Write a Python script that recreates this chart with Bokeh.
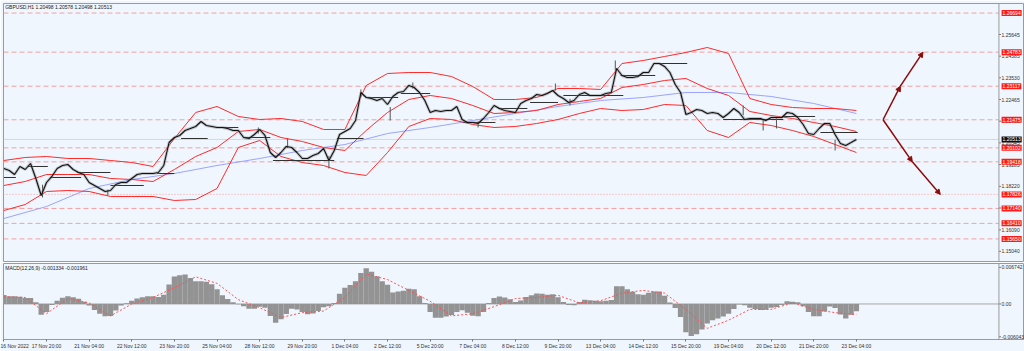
from bokeh.plotting import figure
from bokeh.models import Range1d, FixedTicker, Span, Label, Arrow, NormalHead
from bokeh.core.properties import value
from bokeh.layouts import column
from bokeh.embed import file_html
from bokeh.resources import INLINE

BG = "#EFF6FE"
FONT = "Liberation Sans"

# ---- price data (H1 bars, one value every 4 bars) ----
close = [1.19093, 1.18995, 1.18799, 1.19191, 1.19044, 1.19337, 1.18604, 1.17773, 1.18408, 1.18702,
         1.19093, 1.19240, 1.19288, 1.19044, 1.18897, 1.18799, 1.18408, 1.18262, 1.18115, 1.17968,
         1.18017, 1.18310, 1.18408, 1.18408, 1.18604, 1.18799, 1.18848, 1.18848, 1.18848, 1.18897,
         1.19240, 1.20364, 1.20609, 1.20707, 1.20951, 1.21049, 1.21147, 1.21391, 1.21196, 1.21147,
         1.21098, 1.21098, 1.21049, 1.20951, 1.20951, 1.20609, 1.20560, 1.20755, 1.21000, 1.20707,
         1.19875, 1.19631, 1.19875, 1.20169, 1.20120, 1.19875, 1.19582, 1.19582, 1.19729, 1.19826,
         1.20071, 1.19484, 1.19973, 1.20755, 1.20902, 1.21049, 1.21440, 1.22809, 1.22565, 1.22516,
         1.22418, 1.22516, 1.22222, 1.22614, 1.22809, 1.22858, 1.23152, 1.23054, 1.22809, 1.22418,
         1.21831, 1.21929, 1.21880, 1.21929, 1.21929, 1.22125, 1.21489, 1.21342, 1.21342, 1.21293,
         1.21538, 1.21831, 1.22174, 1.22027, 1.21929, 1.21880, 1.21831, 1.22271, 1.22418, 1.22516,
         1.22711, 1.22663, 1.22760, 1.22907, 1.22663, 1.22516, 1.22320, 1.22418, 1.22711, 1.22809,
         1.22663, 1.22663, 1.22663, 1.22760, 1.22809, 1.23983, 1.23641, 1.23543, 1.23543, 1.23592,
         1.23787, 1.23787, 1.24227, 1.24227, 1.24081, 1.23787, 1.23200, 1.22809, 1.21733, 1.21831,
         1.21978, 1.21929, 1.21782, 1.21831, 1.21782, 1.21587, 1.21782, 1.22027, 1.21831, 1.21489,
         1.21538, 1.21538, 1.21538, 1.21440, 1.21587, 1.21587, 1.21587, 1.21831, 1.21782, 1.21587,
         1.21244, 1.20804, 1.20755, 1.21049, 1.21293, 1.21293, 1.20755, 1.20315, 1.20218, 1.20364,
         1.20513]
close_x = list(range(0, 4 * len(close), 4))

# ---- notable candle wicks (bar index, wick end, wick start) ----
wick_x = [29, 78, 191, 213, 244, 268, 290, 307, 356, 414, 425, 459, 555, 570, 580, 624]
wick_end = [1.17675, 1.17773, 1.21098, 1.20560, 1.19093, 1.22956, 1.21440, 1.23298, 1.21098, 1.23249,
            1.22174, 1.24374, 1.22174, 1.20951, 1.21049, 1.19973]
wick_start = [1.18300, 1.18050, 1.20800, 1.20100, 1.19700, 1.22600, 1.22100, 1.23000, 1.21400, 1.22900,
              1.22500, 1.23900, 1.21700, 1.21500, 1.21550, 1.20500]

# ---- Bollinger bands (one value every 16 bars) ----
bb_upper = [1.19484, 1.19631, 1.19680, 1.19582, 1.19582, 1.19484, 1.19386, 1.19191, 1.20560, 1.21831,
            1.22125, 1.21636, 1.21489, 1.21538, 1.21391, 1.21000, 1.21000, 1.23152, 1.23738, 1.23787,
            1.23787, 1.23592, 1.23103, 1.22467, 1.22467, 1.22565, 1.23005, 1.23005, 1.22956, 1.24227,
            1.24374, 1.24570, 1.24765, 1.25010, 1.24716, 1.22516, 1.22222, 1.22076, 1.22027, 1.22027,
            1.21929]
bb_middle = [1.18262, 1.18457, 1.18799, 1.18799, 1.18799, 1.18604, 1.18555, 1.18457, 1.19044, 1.19680,
             1.20120, 1.20902, 1.21000, 1.20609, 1.20413, 1.20120, 1.19973, 1.20951, 1.21831, 1.22467,
             1.22663, 1.22516, 1.22174, 1.21782, 1.21831, 1.21929, 1.22222, 1.22369, 1.22516, 1.23054,
             1.23200, 1.23396, 1.23494, 1.23005, 1.22663, 1.21880, 1.21685, 1.21538, 1.21342, 1.21147,
             1.20902]
bb_lower = [1.17039, 1.17332, 1.17968, 1.18017, 1.17968, 1.17724, 1.17724, 1.17724, 1.17528, 1.17577,
            1.18115, 1.20120, 1.20462, 1.19680, 1.19386, 1.19240, 1.18897, 1.18751, 1.19875, 1.21147,
            1.21538, 1.21489, 1.21244, 1.21098, 1.21147, 1.21293, 1.21489, 1.21782, 1.22027, 1.21929,
            1.21978, 1.22222, 1.22174, 1.20951, 1.20609, 1.21342, 1.21196, 1.20951, 1.20658, 1.20266,
            1.19875]
bb_x = list(range(0, 16 * len(bb_upper), 16))

# ---- slow moving average (one value every 32 bars) ----
ma = [1.16648, 1.17235, 1.18115, 1.18555, 1.18848, 1.19240, 1.19582, 1.19973, 1.20266, 1.20804,
      1.21098, 1.21440, 1.21782, 1.22125, 1.22418, 1.22565, 1.22809, 1.22809, 1.22614, 1.22271,
      1.21782]
ma_x = list(range(0, 32 * len(ma), 32))

# ---- short horizontal black levels (bar index start/end, price) ----
seg_start = [0, 18, 35, 55, 80, 115, 133, 163, 180, 202, 250, 273, 298, 345, 371, 395, 420, 446, 463, 489, 540, 585, 613]
seg_end = [9, 33, 58, 80, 105, 128, 153, 176, 200, 248, 270, 296, 320, 369, 393, 416, 443, 465, 489, 513, 585, 609, 641]
seg_price = [1.18653, 1.19191, 1.18653, 1.18897, 1.18262, 1.18848, 1.20560, 1.21098, 1.20609, 1.19484,
             1.20560, 1.22565, 1.22760, 1.21342, 1.22027, 1.22320, 1.22663, 1.22663, 1.23641, 1.24227,
             1.21489, 1.21636, 1.20853]

# ---- horizontal levels ----
dashed_levels = [1.26694, 1.24783, 1.23117, 1.21475, 1.20102, 1.19418, 1.17140, 1.16410, 1.15650]
dotted_levels = [1.17826]
current_price = 1.20513
price_ticks = [1.25645, 1.24585, 1.23530, 1.22465, 1.21405, 1.20345, 1.19285, 1.18220, 1.17160, 1.16090, 1.15040]

# ---- projection arrows ----
arrow_up_x = [660, 673, 690]
arrow_up_y = [1.21475, 1.23117, 1.24783]
arrow_dn_x = [660, 682, 703]
arrow_dn_y = [1.21475, 1.19418, 1.17826]

# ---- MACD ----
macd = [0.00165, 0.00140, 0.00140, 0.00135, 0.00109, 0.00109, 0.00030, -0.00200, -0.00150, -0.00020,
        0.00060, 0.00115, 0.00140, 0.00123, 0.00095, 0.00040, -0.00030, -0.00110, -0.00180, -0.00225,
        -0.00220, -0.00120, -0.00030, 0.00012, 0.00060, 0.00100, 0.00125, 0.00140, 0.00140, 0.00128,
        0.00170, 0.00360, 0.00508, 0.00530, 0.00545, 0.00477, 0.00420, 0.00420, 0.00410, 0.00365,
        0.00273, 0.00160, 0.00090, 0.00030, -0.00005, -0.00042, -0.00090, -0.00090, -0.00050, -0.00070,
        -0.00220, -0.00346, -0.00280, -0.00185, -0.00090, -0.00100, -0.00150, -0.00190, -0.00175, -0.00130,
        -0.00060, -0.00040, 0.00020, 0.00190, 0.00300, 0.00350, 0.00420, 0.00570, 0.00660, 0.00595,
        0.00510, 0.00420, 0.00352, 0.00210, 0.00232, 0.00243, 0.00280, 0.00270, 0.00140, 0.00020,
        -0.00150, -0.00255, -0.00255, -0.00230, -0.00205, -0.00150, -0.00115, -0.00164, -0.00218, -0.00225,
        -0.00150, 0.00020, 0.00110, 0.00138, 0.00118, 0.00085, 0.00035, 0.00065, 0.00130, 0.00163,
        0.00195, 0.00187, 0.00170, 0.00178, 0.00125, 0.00035, -0.00020, -0.00025, 0.00038, 0.00077,
        0.00067, 0.00059, 0.00052, 0.00058, 0.00075, 0.00326, 0.00325, 0.00270, 0.00225, 0.00181,
        0.00170, 0.00205, 0.00231, 0.00231, 0.00150, 0.00025, -0.00073, -0.00240, -0.00520, -0.00590,
        -0.00560, -0.00470, -0.00360, -0.00300, -0.00270, -0.00230, -0.00180, -0.00095, -0.00012, -0.00025,
        -0.00070, -0.00095, -0.00113, -0.00105, -0.00070, -0.00055, -0.00020, 0.00049, 0.00042, 0.00030,
        -0.00040, -0.00150, -0.00225, -0.00225, -0.00140, -0.00045, -0.00073, -0.00195, -0.00270, -0.00200,
        -0.00133]
macd_x = list(range(0, 4 * len(macd), 4))
signal = [0.0013, 0.0012, -0.0018, 0.0010, 0.0002, -0.0022, 0.0000, 0.0012, 0.0030, 0.0050,
          0.0038, 0.0008, -0.0007, -0.0025, -0.0016, -0.0013, 0.0012, 0.0055, 0.0045, 0.0025,
          0.0005, -0.0022, -0.0018, -0.0005, 0.0010, 0.0012, 0.0016, 0.0002, 0.0006, 0.0020,
          0.0025, 0.0020, -0.0010, -0.0045, -0.0030, -0.0010, -0.0010, 0.0002, -0.0010, -0.0016,
          -0.00196]
signal_x = list(range(0, 16 * len(signal), 16))
macd_ticks = [0.006742, 0.0, -0.006043]
macd_tick_labels = ["0.006742", "0.00", "-0.006043"]

date_labels = ["16 Nov 2022", "17 Nov 20:00", "21 Nov 04:00", "22 Nov 12:00", "23 Nov 20:00",
               "25 Nov 04:00", "28 Nov 12:00", "29 Nov 20:00", "1 Dec 04:00", "2 Dec 12:00",
               "5 Dec 20:00", "7 Dec 04:00", "8 Dec 12:00", "9 Dec 20:00", "13 Dec 04:00",
               "14 Dec 12:00", "15 Dec 20:00", "19 Dec 04:00", "20 Dec 12:00", "21 Dec 20:00",
               "23 Dec 04:00"]
date_ticks = list(range(0, 32 * len(date_labels), 32))

# chart geometry in bar units: the price scale strip starts at bar AXIS_X
X0, X1 = -0.3, 766.2
AXIS_X = 747.0
LAB_X = 749.0
AX_COL = "#9A9A9A"
TXT = "#303030"


def base(fig):
    fig.background_fill_color = BG
    fig.border_fill_color = BG
    fig.outline_line_color = AX_COL
    fig.xgrid.visible = False
    fig.ygrid.visible = False
    fig.add_layout(Span(location=AXIS_X, dimension="height", line_color=AX_COL, line_width=1))


# ================= price panel =================
xr = Range1d(X0, X1)
p1 = figure(width=1024, height=262, x_range=xr, y_range=Range1d(1.14545, 1.27161),
            x_axis_location=None, y_axis_location=None, toolbar_location=None,
            output_backend="svg", min_border_left=3, min_border_right=0,
            min_border_top=3, min_border_bottom=1)
base(p1)

# horizontal levels
p1.segment(x0=X0, x1=AXIS_X, y0=dashed_levels, y1=dashed_levels,
           line_color="#F3A0A0", line_dash="5 3", line_width=1)
p1.segment(x0=X0, x1=AXIS_X, y0=dotted_levels, y1=dotted_levels,
           line_color="#F3A0A0", line_dash="1 2", line_width=1)
p1.segment(x0=X0, x1=AXIS_X, y0=current_price, y1=current_price, line_color="#D3D8DF", line_width=1)

# indicators
p1.line(ma_x, ma, line_color="#9AA4FF", line_width=1)
for band in (bb_upper, bb_middle, bb_lower):
    p1.line(bb_x, band, line_color="#FF2A2A", line_width=1)

p1.segment(x0=seg_start, y0=seg_price, x1=seg_end, y1=seg_price, line_color="#303030", line_width=1)

# price
p1.segment(x0=wick_x, x1=wick_x, y0=wick_start, y1=wick_end, line_color="#555555", line_width=1)
p1.line(close_x, close, line_color="#7A7A7A", line_width=3, line_alpha=0.4)
p1.line(close_x, close, line_color="#111111", line_width=1.1)

# projection arrows
for xs, ys in ((arrow_up_x, arrow_up_y), (arrow_dn_x, arrow_dn_y)):
    for i in range(len(xs) - 1):
        p1.add_layout(Arrow(x_start=xs[i], y_start=ys[i], x_end=xs[i + 1], y_end=ys[i + 1],
                            line_color="#8B0A0A", line_width=1.5,
                            end=NormalHead(size=5, fill_color="#8B0A0A", line_color="#8B0A0A")))

# price scale
p1.segment(x0=AXIS_X, x1=AXIS_X + 1.5, y0=price_ticks, y1=price_ticks, line_color="#707070")
p1.text(x=[LAB_X] * len(price_ticks), y=price_ticks, text=[f"{t:.5f}" for t in price_ticks],
        text_font=value(FONT), text_font_size="5px", text_color=TXT,
        text_baseline="middle", text_align="left")
for lv in dashed_levels + dotted_levels:
    p1.add_layout(Label(x=LAB_X, y=lv, text=f"{lv:.5f}", text_font=FONT, text_font_size="5px",
                        text_color="white", text_baseline="middle", text_align="left",
                        background_fill_color="#FF1A1A", padding=1))
p1.add_layout(Label(x=LAB_X, y=current_price, text=f"{current_price:.5f}", text_font=FONT,
                    text_font_size="5px", text_color="white", text_baseline="middle",
                    text_align="left", background_fill_color="#101010", padding=1))

p1.add_layout(Label(x=1, y=1.2716, text="GBPUSD,H1  1.20498 1.20578 1.20498 1.20513",
                    text_font=FONT, text_font_size="5px", text_color="#202020",
                    text_baseline="top", text_align="left"))

# ================= MACD panel =================
p2 = figure(width=1024, height=89, x_range=xr, y_range=Range1d(-0.00655, 0.00746),
            x_axis_location="below", y_axis_location=None, toolbar_location=None,
            output_backend="svg", min_border_left=3, min_border_right=0,
            min_border_top=1, min_border_bottom=11)
base(p2)

p2.segment(x0=X0, x1=AXIS_X, y0=0, y1=0, line_color="#A8A8A8", line_width=1)
p2.vbar(x=macd_x, top=macd, bottom=0, width=4, fill_color="#939393", line_color=None)
p2.line(signal_x, signal, line_color="#FF5050", line_width=1, line_dash="2 2")

p2.segment(x0=AXIS_X, x1=AXIS_X + 1.5, y0=macd_ticks, y1=macd_ticks, line_color="#707070")
p2.text(x=[LAB_X] * len(macd_ticks), y=macd_ticks, text=macd_tick_labels,
        text_font=value(FONT), text_font_size="5px", text_color=TXT,
        text_baseline="middle", text_align="left")

p2.add_layout(Label(x=1, y=0.0072, text="MACD(12,26,9) -0.001334 -0.001961",
                    text_font=FONT, text_font_size="5px", text_color="#202020",
                    text_baseline="top", text_align="left"))

xa = p2.xaxis[0]
xa.ticker = FixedTicker(ticks=date_ticks)
xa.major_label_overrides = {t: lab for t, lab in zip(date_ticks, date_labels)}
xa.major_label_text_align = "left"
xa.major_label_text_font = FONT
xa.major_label_text_font_size = "5px"
xa.major_label_text_color = TXT
xa.major_label_standoff = 1
xa.major_tick_out = 2
xa.major_tick_in = 0
xa.minor_tick_line_color = None
xa.axis_line_color = AX_COL
xa.major_tick_line_color = "#707070"

layout = column(p1, p2, spacing=0)
open("out.html", "w").write(file_html(layout, INLINE))
